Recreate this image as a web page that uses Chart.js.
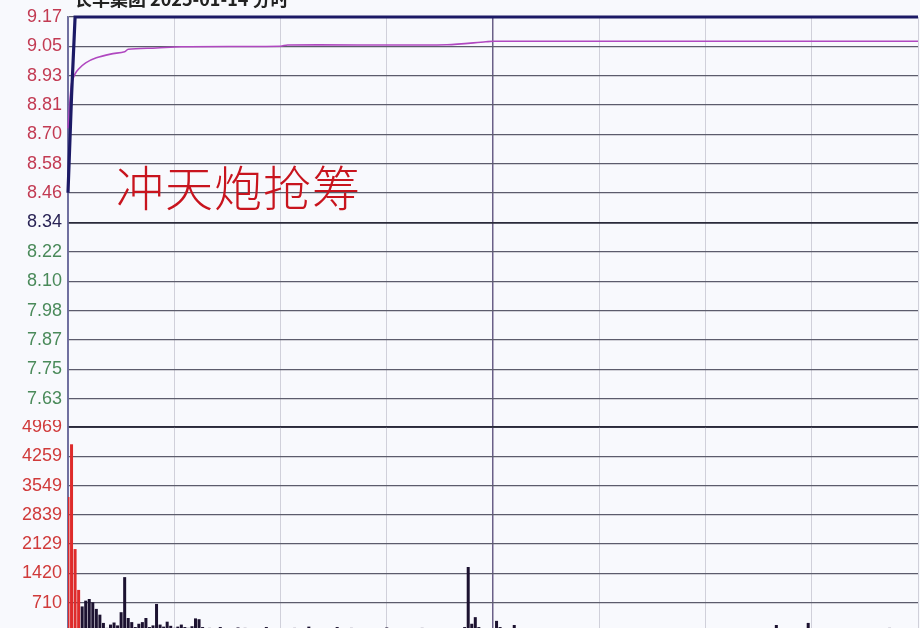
<!DOCTYPE html>
<html>
<head>
<meta charset="utf-8">
<script src="https://cdn.jsdelivr.net/npm/chart.js@4/dist/chart.umd.min.js"></script>
<style>
  html, body { margin:0; padding:0; width:920px; height:628px; overflow:hidden; background:#f8f9fd; }
  #wrap { position:relative; width:920px; height:628px; overflow:hidden; }
  #c1 { position:absolute; left:0; top:0; }
  #c2 { position:absolute; left:0; top:420px; }
  #title { position:absolute; left:74px; top:-15px; font:bold 18px "Noto Sans CJK SC", sans-serif; color:#222; white-space:nowrap; }
  #note { position:absolute; left:116px; top:150px; font:300 48px "Noto Sans CJK SC", sans-serif; color:#c8141e; white-space:nowrap; letter-spacing:1px; }
</style>
</head>
<body>
<div id="wrap">
  <canvas id="c1" width="920" height="428"></canvas>
  <canvas id="c2" width="920" height="212"></canvas>
  <div id="title">长华集团 2025-01-14 分时</div>
  <div id="note">冲天炮抢筹</div>
</div>
<script>
// ---- data ----
const totalMinutes = 240;            // 09:30-11:30, 13:00-15:00
const priceMin = 7.51, priceMax = 9.17, preClose = 8.34;
const priceTickLabels = ['9.17','9.05','8.93','8.81','8.70','8.58','8.46','8.34','8.22','8.10','7.98','7.87','7.75','7.63'];
const volMax = 4969;
const volTickLabels = ['4969','4259','3549','2839','2129','1420','710'];

const priceMinutes = [0, 1, 2, 240];
const priceValues  = [8.46, 8.85, 9.17, 9.17];

const avgMinutes = [0, 1, 2, 3, 5, 8, 12, 16, 17, 25, 32, 60, 62, 107, 118, 120, 240];
const avgValues  = [8.72, 8.90, 8.94, 8.96, 8.985, 9.005, 9.02, 9.03, 9.04, 9.045, 9.05, 9.052, 9.057, 9.058, 9.07, 9.072, 9.072];

const volMinutes = [0,1,2,3,4,5,6,7,8,9,10,11,12,13,14,15,16,17,18,19,20,21,22,23,24,25,26,27,28,29,30,31,32,33,34,35,36,37,38,40,43,45,48,50,53,56,60,64,68,72,76,80,85,90,95,100,105,110,112,113,114,115,116,118,121,122,125,126,130,135,145,160,175,190,200,205,209,215,232];
const volValues  = [3270,4550,2010,1020,620,760,800,720,560,420,220,100,180,230,160,480,1330,340,240,120,200,240,340,120,160,680,180,130,250,150,100,130,180,120,100,140,330,310,120,100,120,90,110,100,80,120,90,100,130,90,120,100,90,110,80,100,70,90,120,1575,200,360,120,90,270,120,90,170,80,70,60,60,50,60,170,60,220,50,100];
const volUpCount = 4;   // first bars drawn red

// ---- helpers ----
const FONT = { family: '"Liberation Sans", Arial, sans-serif', size: 18 };
const hLine = '#5c5c6c';
function xGridColor(ctx) {
  const v = ctx.tick && ctx.tick.value;
  if (v === 120) return '#6a6088';
  if (v === 0) return '#7070a0';
  return '#d0d0da';
}
function xScale() {
  return {
    type: 'linear', min: 0, max: totalMinutes, offset: false,
    afterBuildTicks(s) { const t = []; for (let v = 0; v <= totalMinutes; v += 30) t.push({ value: v }); s.ticks = t; },
    afterFit(s) { s.height = 0; s.paddingLeft = 0; s.paddingRight = 0; },
    ticks: { display: false },
    grid: { offset: false, color: xGridColor, lineWidth: ctx => (ctx.tick && ctx.tick.value === 120) ? 1.5 : 1, drawTicks: false },
    border: { display: false }
  };
}

// ---- price chart ----
new Chart(document.getElementById('c1'), {
  type: 'line',
  data: {
    datasets: [
      { data: priceMinutes.map((m, i) => ({ x: m, y: priceValues[i] })), borderColor: '#1c1a66', borderWidth: 3.2, pointRadius: 0, tension: 0, clip: 6 },
      { data: avgMinutes.map((m, i) => ({ x: m, y: avgValues[i] })), borderColor: '#b048c0', borderWidth: 1.6, pointRadius: 0, tension: 0.3, clip: 4 }
    ]
  },
  options: {
    responsive: false, animation: false, devicePixelRatio: 1,
    layout: { padding: { top: 17, right: 2, bottom: 0, left: 0 } },
    plugins: { legend: { display: false }, tooltip: { enabled: false } },
    scales: {
      x: xScale(),
      y: {
        type: 'linear', min: priceMin, max: priceMax,
        afterBuildTicks(s) { const n = 14, t = []; for (let i = 0; i <= n; i++) t.push({ value: priceMax - (priceMax - priceMin) * i / n }); s.ticks = t; },
        afterFit(s) { s.width = 68; s.paddingTop = 0; s.paddingBottom = 0; },
        ticks: {
          font: FONT, padding: 6,
          color: ctx => { const i = ctx.index; return i < 7 ? '#c23a52' : (i === 7 ? '#2a2456' : '#4a8a5a'); },
          callback: (v, i) => priceTickLabels[i] !== undefined ? priceTickLabels[i] : ''
        },
        grid: { color: ctx => ctx.index === 7 ? '#2a2a3a' : hLine, lineWidth: ctx => ctx.index === 7 ? 1.8 : 1.3, drawTicks: false },
        border: { display: true, color: '#7070a0', width: 1.5 }
      }
    }
  }
});

// ---- volume chart ----
new Chart(document.getElementById('c2'), {
  type: 'bar',
  data: {
    datasets: [{
      data: volMinutes.map((m, i) => ({ x: m, y: volValues[i] })),
      backgroundColor: volMinutes.map((m, i) => i < volUpCount ? '#de2b2b' : '#1c1230'),
      borderWidth: 0, barPercentage: 1, categoryPercentage: 0.85
    }]
  },
  options: {
    responsive: false, animation: false, devicePixelRatio: 1,
    layout: { padding: { top: 7, right: 2, bottom: 0, left: 0 } },
    plugins: { legend: { display: false }, tooltip: { enabled: false } },
    scales: {
      x: xScale(),
      y: {
        type: 'linear', min: 0, max: volMax,
        afterBuildTicks(s) { const n = 7, t = []; for (let i = 0; i <= n; i++) t.push({ value: volMax - volMax * i / n }); s.ticks = t; },
        afterFit(s) { s.width = 68; s.paddingTop = 0; s.paddingBottom = 0; },
        ticks: {
          font: FONT, padding: 6, color: '#d03a3a',
          callback: (v, i) => volTickLabels[i] !== undefined ? volTickLabels[i] : ''
        },
        grid: { color: ctx => ctx.index === 0 ? '#2a2a3a' : hLine, lineWidth: ctx => ctx.index === 0 ? 1.8 : 1.3, drawTicks: false },
        border: { display: true, color: '#7070a0', width: 1.5 }
      }
    }
  }
});
</script>
</body>
</html>
